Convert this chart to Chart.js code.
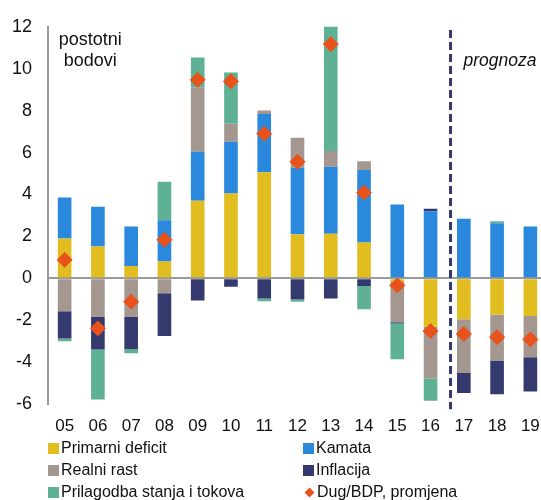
<!DOCTYPE html>
<html>
<head>
<meta charset="utf-8">
<script src="https://cdn.jsdelivr.net/npm/chart.js@4"></script>
<style>
  html, body { margin: 0; padding: 0; background: #fff; overflow: hidden; }
  body { width: 541px; height: 500px; position: relative; font-family: "Liberation Sans", Arial, sans-serif; }
  #chart { position: absolute; left: 0; top: 0; }
  #legend { position: absolute; left: 0; top: 439px; width: 541px; }
  .item { position: absolute; display: flex; align-items: center; font-size: 16px; line-height: 18px; color: #111; white-space: nowrap; }
  .box { width: 11px; height: 11px; margin-right: 2px; }
  .dia { width: 7px; height: 7px; margin: 0 4px 0 3px; transform: rotate(45deg); }
</style>
</head>
<body>
<canvas id="chart" width="547" height="440"></canvas>
<div id="legend"></div>
<script>
const years = ['05', '06', '07', '08', '09', '10', '11', '12', '13', '14', '15', '16', '17', '18', '19'];

const primarniDeficit = [1.9, 1.52, 0.58, 0.8, 3.7, 4.05, 5.06, 2.1, 2.12, 1.71, -0.15, -2.31, -1.96, -1.73, -1.8];
const kamata          = [1.95, 1.89, 1.89, 1.97, 2.34, 2.47, 2.78, 3.17, 3.2, 3.46, 3.52, 3.2, 2.84, 2.62, 2.47];
const realniRast      = [-1.57, -1.83, -1.85, -0.72, 3.08, 0.85, 0.17, 1.44, 0.75, 0.42, -1.95, -2.47, -2.56, -2.2, -1.97];
const inflacija       = [-1.3, -1.57, -1.52, -2.04, -1.06, -0.4, -0.96, -1.01, -0.96, -0.37, -0.06, 0.12, -0.96, -1.6, -1.63];
const prilagodba      = [-0.13, -2.39, -0.21, 1.83, 1.42, 2.45, -0.14, -0.11, 6.01, -1.11, -1.71, -1.06, 0, 0.1, 0];
const dugPromjena     = [0.88, -2.39, -1.12, 1.84, 9.47, 9.4, 6.9, 5.56, 11.17, 4.09, -0.34, -2.52, -2.66, -2.81, -2.92];

const yTicks = [-6, -4, -2, 0, 2, 4, 6, 8, 10, 12];
const forecastFrom = '17';

const C = {
  yellow: '#E2BD20',
  blue: '#2A88DD',
  gray: '#A3978F',
  navy: '#353A6E',
  green: '#5FB195',
  orange: '#E8531C',
  axis: '#9A9A9A',
  text: '#111111'
};

const barSeries = [
  { label: 'Primarni deficit', data: primarniDeficit, color: C.yellow },
  { label: 'Kamata', data: kamata, color: C.blue },
  { label: 'Realni rast', data: realniRast, color: C.gray },
  { label: 'Inflacija', data: inflacija, color: C.navy },
  { label: 'Prilagodba stanja i tokova', data: prilagodba, color: C.green }
];

// extra text + dashed forecast line
const annotations = {
  id: 'annotations',
  afterDatasetsDraw(chart) {
    const { ctx, scales: { x, y } } = chart;
    const idx = years.indexOf(forecastFrom);
    const lx = x.getPixelForValue(idx - 0.4);
    ctx.save();
    ctx.strokeStyle = C.navy;
    ctx.lineWidth = 3;
    ctx.setLineDash([8, 4]);
    ctx.beginPath();
    ctx.moveTo(lx, y.getPixelForValue(11.85));
    ctx.lineTo(lx, y.getPixelForValue(-6.25));
    ctx.stroke();
    ctx.setLineDash([]);

    ctx.fillStyle = C.text;
    ctx.textBaseline = 'middle';
    ctx.textAlign = 'center';
    ctx.font = '18px "Liberation Sans", Arial, sans-serif';
    const tx = x.getPixelForValue(0.77);
    ctx.fillText('postotni', tx, y.getPixelForValue(11.35));
    ctx.fillText('bodovi', tx, y.getPixelForValue(10.35));

    ctx.textAlign = 'left';
    ctx.font = 'italic 17.5px "Liberation Sans", Arial, sans-serif';
    ctx.fillText('prognoza', lx + 13, y.getPixelForValue(10.35));
    ctx.restore();
  }
};

new Chart(document.getElementById('chart'), {
  type: 'bar',
  data: {
    labels: years,
    datasets: [
      {
        type: 'line',
        label: 'Dug/BDP, promjena',
        data: dugPromjena,
        showLine: false,
        pointStyle: 'rectRot',
        pointRadius: 7.5,
        pointBackgroundColor: C.orange,
        pointBorderColor: C.orange,
        pointBorderWidth: 1,
        order: 0
      },
      ...barSeries.map(s => ({
        label: s.label,
        data: s.data,
        backgroundColor: s.color,
        borderWidth: 0,
        categoryPercentage: 1,
        barPercentage: 0.41,
        order: 1
      }))
    ]
  },
  options: {
    responsive: false,
    animation: false,
    layout: { autoPadding: false, padding: { top: 19.5, left: 0, right: 0, bottom: 0 } },
    plugins: {
      legend: { display: false },
      tooltip: { enabled: false }
    },
    scales: {
      x: {
        stacked: true,
        grid: { display: false, drawTicks: false },
        border: { display: false },
        ticks: {
          color: C.text,
          padding: 12,
          maxRotation: 0,
          autoSkip: false,
          font: { family: '"Liberation Sans", Arial, sans-serif', size: 17 }
        },
        afterFit: (scale) => {
          scale.height = 36;
          scale.paddingRight = 0;
          scale.paddingLeft = 0;
        }
      },
      y: {
        stacked: true,
        min: -6,
        max: 12,
        afterBuildTicks: (scale) => { scale.ticks = yTicks.map(v => ({ value: v })); },
        grid: {
          drawTicks: false,
          color: (ctx) => ctx.tick && ctx.tick.value === 0 ? C.axis : 'rgba(0,0,0,0)',
          lineWidth: 2
        },
        border: { display: true, color: C.axis, width: 2 },
        ticks: {
          color: C.text,
          padding: 16,
          font: { family: '"Liberation Sans", Arial, sans-serif', size: 18 }
        },
        afterFit: (scale) => { scale.width = 48; }
      }
    }
  },
  plugins: [annotations]
});

// html legend in two columns
const legendItems = [
  { label: barSeries[0].label, color: barSeries[0].color, kind: 'box' },
  { label: barSeries[1].label, color: barSeries[1].color, kind: 'box' },
  { label: barSeries[2].label, color: barSeries[2].color, kind: 'box' },
  { label: barSeries[3].label, color: barSeries[3].color, kind: 'box' },
  { label: barSeries[4].label, color: barSeries[4].color, kind: 'box' },
  { label: 'Dug/BDP, promjena', color: C.orange, kind: 'dia' }
];
const legend = document.getElementById('legend');
legendItems.forEach((it, i) => {
  const el = document.createElement('div');
  el.className = 'item';
  el.style.left = (i % 2 === 0 ? 48 : 303) + 'px';
  el.style.top = (Math.floor(i / 2) * 22) + 'px';
  el.innerHTML = '<span class="' + it.kind + '" style="background:' + it.color + '"></span>' + it.label;
  legend.appendChild(el);
});
</script>
</body>
</html>
